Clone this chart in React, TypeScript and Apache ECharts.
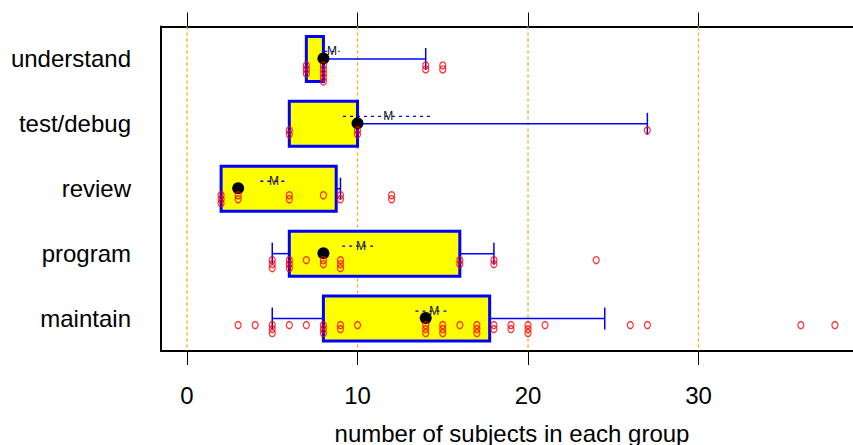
import React, { useEffect, useRef } from "react";
import * as echarts from "echarts";

const categories = ["understand", "test/debug", "review", "program", "maintain"];
const boxLow = [7, 6, 2, 6, 8];
const boxHigh = [8, 10, 8.75, 16, 17.75];
const medians = [8, 10, 3, 8, 14];
const whiskerLow = [7, 6, 2, 5, 5];
const whiskerHigh = [14, 27, 9, 18, 24.5];
const means = [8.5, 11.8, 5.1, 10.2, 14.5];
const meanLow = [8.05, 9.15, 4.3, 9.1, 13.4];
const meanHigh = [8.95, 14.4, 5.9, 11.1, 15.4];

const pointsUnderstand = [7, 7, 7, 8, 8, 8, 8, 8, 14, 14, 15, 15];
const pointsTest = [6, 6, 10, 10, 27];
const pointsReview = [2, 2, 2, 3, 3, 6, 6, 8, 9, 9, 12, 12];
const pointsProgram = [5, 5, 5, 6, 6, 6, 7, 8, 8, 9, 9, 9, 16, 16, 18, 18, 24];
const pointsMaintain = [
  3, 4, 5, 5, 5, 6, 7, 8, 8, 8, 9, 9, 10, 14, 14, 14, 15, 15, 15, 16, 17, 17, 17,
  18, 18, 19, 19, 20, 20, 20, 21, 26, 27, 36, 38,
];

const tickValues = [0, 10, 20, 30];
const xTitle = "number of subjects in each group";

const X_MIN = -1.525;
const X_MAX = 39.06;

export default function App() {
  const ref = useRef<HTMLDivElement>(null);

  useEffect(() => {
    if (!ref.current) return;
    const chart = echarts.init(ref.current, null, { renderer: "svg" });
    const font = "'Liberation Sans', Arial, Helvetica, sans-serif";
    const blue = "#0000FF";

    const pointGroups = [pointsUnderstand, pointsTest, pointsReview, pointsProgram, pointsMaintain];
    const scatterData: any[] = [];
    pointGroups.forEach((vals, i) => {
      const seen: Record<string, number> = {};
      vals.forEach((v) => {
        const k = seen[v] || 0;
        seen[v] = k + 1;
        scatterData.push({ value: [v, i], symbolOffset: [0, 6.5 + k * 4] });
      });
    });

    const boxData = categories.map((_, i) => [
      boxLow[i], i, boxHigh[i], medians[i], whiskerLow[i], whiskerHigh[i], means[i], meanLow[i], meanHigh[i],
    ]);

    const axisCommon = {
      type: "value",
      min: X_MIN,
      max: X_MAX,
      splitLine: { show: false },
      axisLine: { show: true, onZero: false, lineStyle: { color: "#000", width: 2 } },
      axisTick: { show: true, customValues: tickValues, length: 14, lineStyle: { color: "#000", width: 1 } },
    };

    chart.setOption({
      animation: false,
      grid: { left: 161, right: 0, top: 26.5, bottom: 94, containLabel: false },
      xAxis: [
        {
          ...axisCommon,
          position: "bottom",
          axisLabel: { customValues: tickValues, margin: 32, fontSize: 24, color: "#000", fontFamily: font },
        },
        {
          ...axisCommon,
          position: "top",
          axisLabel: { show: false },
        },
      ],
      yAxis: {
        type: "category",
        data: categories,
        inverse: true,
        axisLine: { show: true, onZero: false, lineStyle: { color: "#000", width: 2 } },
        axisTick: { show: false },
        splitLine: { show: false },
        axisLabel: { fontSize: 24, color: "#000", margin: 30, fontFamily: font },
      },
      graphic: [
        {
          type: "text",
          x: 512,
          y: 433,
          style: {
            text: xTitle,
            fontSize: 24,
            fill: "#000",
            fontFamily: font,
            align: "center",
            verticalAlign: "middle",
          },
        },
      ],
      series: [
        {
          type: "custom",
          z: 1,
          silent: true,
          data: tickValues.map((t) => [t, 0]),
          encode: { x: 0, y: 1 },
          renderItem: (params: any, api: any) => {
            const cs = params.coordSys;
            const x = api.coord([api.value(0), 0])[0];
            return {
              type: "line",
              shape: { x1: x, y1: cs.y, x2: x, y2: cs.y + cs.height },
              style: { stroke: "#FFA500", lineWidth: 1.3, lineDash: [3, 3] },
            };
          },
        },
        {
          type: "custom",
          z: 2,
          silent: true,
          encode: { x: [0, 2, 4, 5], y: 1 },
          data: boxData,
          renderItem: (params: any, api: any) => {
            const i = api.value(1);
            const px = (v: number) => api.coord([v, i])[0];
            const cy = api.coord([0, i])[1];
            const q1 = px(api.value(0));
            const q3 = px(api.value(2));
            const med = px(api.value(3));
            const wl = px(api.value(4));
            const wh = px(api.value(5));
            const mn = px(api.value(6));
            const ml = px(api.value(7));
            const mh = px(api.value(8));
            const children: any[] = [];
            const wStyle = { stroke: blue, lineWidth: 1.5 };
            if (wl < q1 - 0.5) {
              children.push({ type: "line", shape: { x1: q1, y1: cy, x2: wl, y2: cy }, style: wStyle });
              children.push({ type: "line", shape: { x1: wl, y1: cy - 11, x2: wl, y2: cy + 11 }, style: wStyle });
            }
            if (wh > q3 + 0.5) {
              children.push({ type: "line", shape: { x1: q3, y1: cy, x2: wh, y2: cy }, style: wStyle });
              children.push({ type: "line", shape: { x1: wh, y1: cy - 11, x2: wh, y2: cy + 11 }, style: wStyle });
            }
            children.push({
              type: "rect",
              shape: { x: q1, y: cy - 22.5, width: q3 - q1, height: 45 },
              style: { fill: "#FFFF00", stroke: blue, lineWidth: 3 },
            });
            children.push({
              type: "line",
              shape: { x1: ml, y1: cy - 7.5, x2: mh, y2: cy - 7.5 },
              style: { stroke: blue, lineWidth: 1.3, lineDash: [3, 4] },
            });
            children.push({
              type: "text",
              x: mn,
              y: cy - 7.5,
              style: {
                text: "M",
                fontSize: 12,
                fill: "#111",
                fontFamily: font,
                align: "center",
                verticalAlign: "middle",
              },
            });
            children.push({
              type: "circle",
              shape: { cx: med, cy: cy - 0.5, r: 6 },
              style: { fill: "#000" },
            });
            return { type: "group", children };
          },
        },
        {
          type: "scatter",
          z: 3,
          silent: true,
          symbol: "circle",
          symbolSize: [6, 7],
          itemStyle: { color: "rgba(0,0,0,0)", borderColor: "#FF0000", borderWidth: 1.3 },
          data: scatterData,
        },
      ],
    });

    return () => chart.dispose();
  }, []);

  return (
    <div
      ref={ref}
      style={{ position: "absolute", left: 0, top: 0, width: 853, height: 445 }}
    />
  );
}
